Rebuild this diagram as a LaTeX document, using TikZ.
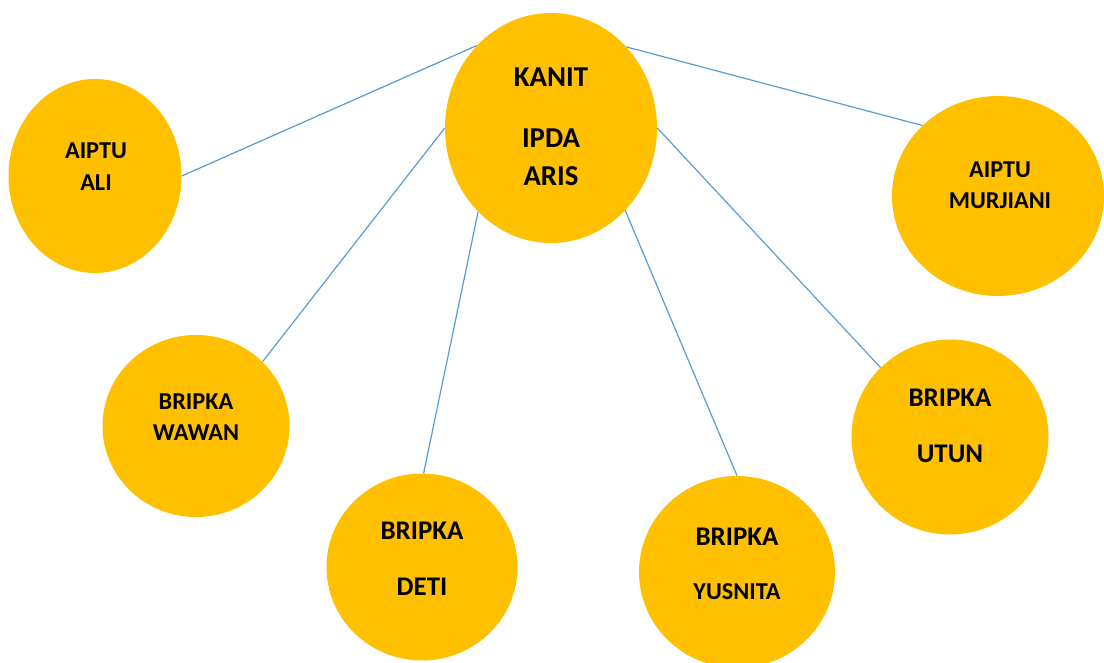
\documentclass[tikz,border=0pt]{standalone}
\usepackage{fontspec}
\setmainfont{Carlito}
\usetikzlibrary{shapes.geometric}
\definecolor{gold}{HTML}{FFC000}
\definecolor{linkblue}{HTML}{5B9BD5}
\tikzset{
  bubble/.style={ellipse, fill=gold, draw=none, inner sep=0pt},
  link/.style={draw=linkblue, line width=0.9pt},
  huge/.style={font=\bfseries\fontsize{21.6}{26}\selectfont, inner sep=0pt},
  big/.style={font=\bfseries\fontsize{20.2}{24}\selectfont, inner sep=0pt},
  mid/.style={font=\bfseries\fontsize{18.2}{22}\selectfont, inner sep=0pt}
}
\begin{document}
\begin{tikzpicture}[x=0.75pt, y=-0.75pt]
\useasboundingbox (0,0) rectangle (1104,663);
% ellipses
\node[bubble, minimum width=212*0.75pt, minimum height=230*0.75pt] (K) at (551,128) {};
\node[bubble, minimum width=173*0.75pt, minimum height=194*0.75pt] (A) at (95,176) {};
\node[bubble, minimum width=212*0.75pt, minimum height=200*0.75pt] (M) at (998,196) {};
\node[bubble, minimum width=187*0.75pt, minimum height=182*0.75pt] (W) at (196,426) {};
\node[bubble, minimum width=191*0.75pt, minimum height=187*0.75pt] (D) at (422,567) {};
\node[bubble, minimum width=196*0.75pt, minimum height=192*0.75pt] (Y) at (737,572) {};
\node[bubble, minimum width=197*0.75pt, minimum height=195*0.75pt] (U) at (950,437) {};
% connectors
\draw[link] (K.132) -- (A.0);
\draw[link] (K.47) -- (M.137);
\draw[link] (K.180) -- (W.44);
\draw[link] (K.229) -- (D.89);
\draw[link] (K.312) -- (Y.90);
\draw[link] (K.0) -- (U.135);
% texts
\node[huge] (k1) at (551,77) {KANIT};
\node[huge] (k2) at (551,138) {IPDA};
\node[huge] (k3) at (551,176) {ARIS};
\node[mid] (a1) at (96,151) {AIPTU};
\node[mid] (a2) at (96,183) {ALI};
\node[mid] (m1) at (1000,170) {AIPTU};
\node[mid] (m2) at (1000,201) {MURJIANI};
\node[mid] (w1) at (196,402) {BRIPKA};
\node[mid] (w2) at (196,433) {WAWAN};
\node[big] (d1) at (422,531) {BRIPKA};
\node[big] (d2) at (422,587) {DETI};
\node[big] (y1) at (737,537) {BRIPKA};
\node[mid] (y2) at (737,592) {YUSNITA};
\node[big] (u1) at (950,398) {BRIPKA};
\node[big] (u2) at (950,454) {UTUN};
\end{tikzpicture}
\end{document}
